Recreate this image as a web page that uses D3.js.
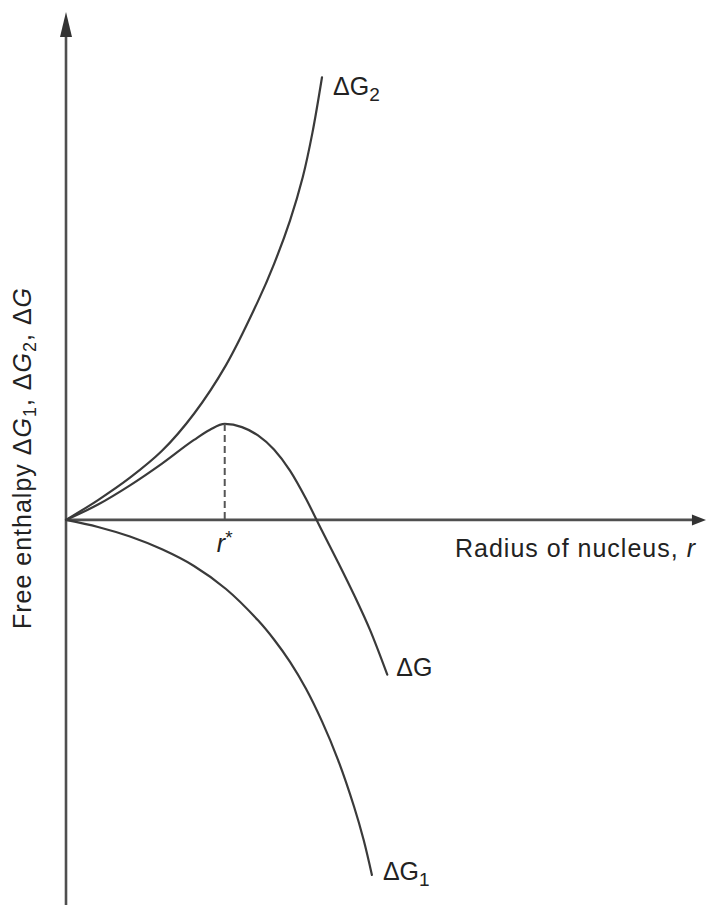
<!DOCTYPE html>
<html><head><meta charset="utf-8">
<script src="https://cdn.jsdelivr.net/npm/d3@7"></script>
<style>body{margin:0;background:#fff}svg{display:block}text{font-family:"Liberation Sans",Arial,sans-serif;fill:#222}</style>
</head><body><svg id="c" width="711" height="909"></svg>
<script>
// radius values (arbitrary units) and free-enthalpy values
const g2R = [0,0.5,1.0,1.5,2.0,2.5,3.0,3.25,3.5,3.7,3.85,4.0];
const g2V = [0,0.31,0.66,1.08,1.66,2.42,3.42,4.0,4.68,5.36,6.05,6.92];
const gR  = [0,0.5,1.0,1.5,2.0,2.25,2.48,2.75,3.0,3.25,3.5,3.75,4.0,4.25,4.5,4.75,5.02];
const gV  = [0,0.24,0.54,0.88,1.25,1.41,1.50,1.45,1.32,1.10,0.77,0.33,-0.17,-0.66,-1.17,-1.72,-2.42];
const g1R = [0,0.5,1.0,1.5,2.0,2.5,3.0,3.25,3.5,3.75,4.0,4.25,4.5,4.65,4.78];
const g1V = [0,-0.11,-0.26,-0.46,-0.72,-1.08,-1.57,-1.87,-2.22,-2.64,-3.15,-3.75,-4.48,-5.0,-5.55];
const rStar = 2.48;
const gPeak = 1.50;
const xLabel = "Radius of nucleus, ";
const yLabel = "Free enthalpy ";

const svg = d3.select("#c");
const x = d3.scaleLinear().domain([0,10]).range([66,706]);
const y = d3.scaleLinear().domain([-6.02,7.94]).range([905,12]);

const axisCol = "#4f4f4f", lineCol = "#3a3a3a";
// axes
svg.append("line").attr("x1",x(0)).attr("x2",x(0)).attr("y1",y(-6.02)).attr("y2",y(7.6))
  .attr("stroke",axisCol).attr("stroke-width",2.6);
svg.append("line").attr("x1",x(0)).attr("x2",x(9.85)).attr("y1",y(0)).attr("y2",y(0))
  .attr("stroke",axisCol).attr("stroke-width",2.6);
// arrowheads
svg.append("path").attr("d",`M${x(0)},${y(7.94)} L${x(0)-6},${y(7.55)} L${x(0)+6},${y(7.55)} Z`).attr("fill","#333");
svg.append("path").attr("d",`M${x(10)},${y(0)} L${x(9.78)},${y(0)-5.5} L${x(9.78)},${y(0)+5.5} Z`).attr("fill","#333");

const lineSmooth = d3.line().x(d=>x(d[0])).y(d=>y(d[1])).curve(d3.curveCatmullRom.alpha(0.5));
const lineMono = d3.line().x(d=>x(d[0])).y(d=>y(d[1])).curve(d3.curveMonotoneX);
const mk = (R,V)=>R.map((r,i)=>[r,V[i]]);
[[g2R,g2V,lineSmooth],[gR,gV,lineMono],[g1R,g1V,lineSmooth]].forEach(([R,V,ln])=>{
  svg.append("path").attr("d",ln(mk(R,V))).attr("fill","none")
    .attr("stroke",lineCol).attr("stroke-width",2.2).attr("stroke-linecap","round");
});
// dashed r*
svg.append("line").attr("x1",x(rStar)).attr("x2",x(rStar)).attr("y1",y(gPeak)).attr("y2",y(0))
  .attr("stroke","#555").attr("stroke-width",2).attr("stroke-dasharray","7,4");

// curve labels
function dg(xp,yp,sub){
  const t = svg.append("text").attr("x",xp).attr("y",yp).attr("font-size",25);
  t.append("tspan").text("Δ");
  t.append("tspan").text("G");
  if(sub) t.append("tspan").attr("dy",6).attr("font-size",19).text(sub);
}
dg(x(g2R[g2R.length-1])+11,95,"2");
dg(x(gR[gR.length-1])+9,676,null);
dg(x(g1R[g1R.length-1])+11,880,"1");

const r = svg.append("text").attr("x",x(rStar)).attr("y",552).attr("text-anchor","middle").attr("font-size",25);
r.append("tspan").attr("font-style","italic").text("r");
r.append("tspan").attr("dy",-8).attr("font-size",19).text("*");

const xl = svg.append("text").attr("x",455).attr("y",557).attr("font-size",25).attr("letter-spacing",1);
xl.append("tspan").text(xLabel);
xl.append("tspan").attr("font-style","italic").text("r");

const yl = svg.append("text").attr("transform","translate(31,458) rotate(-90)").attr("text-anchor","middle")
  .attr("font-size",25).attr("letter-spacing",1);
yl.append("tspan").text(yLabel+"Δ");
yl.append("tspan").attr("font-style","italic").text("G");
yl.append("tspan").attr("dy",5).attr("font-size",18).text("1");
yl.append("tspan").attr("dy",-5).text(", Δ");
yl.append("tspan").attr("font-style","italic").text("G");
yl.append("tspan").attr("dy",5).attr("font-size",18).text("2");
yl.append("tspan").attr("dy",-5).text(", Δ");
yl.append("tspan").attr("font-style","italic").text("G");
</script></body></html>
